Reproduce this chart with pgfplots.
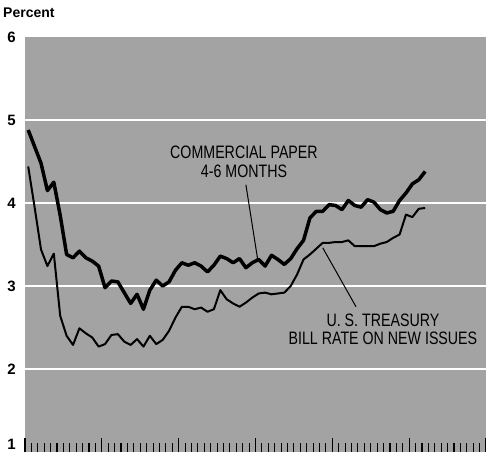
\documentclass[border=0pt]{standalone}
\usepackage{fontspec}
\setmainfont{Liberation Sans}
\newfontfamily\condfont{Liberation Sans}[FakeStretch=0.79]
\usepackage{pgfplots}
\pgfplotsset{compat=1.18}
\usepackage{pgfplotstable}

\pgfplotstableread{
x cp tb
0.5 4.88 4.44
1.5 4.68 3.95
2.5 4.48 3.44
3.5 4.15 3.24
4.5 4.25 3.39
5.5 3.85 2.64
6.5 3.38 2.40
7.5 3.34 2.29
8.5 3.42 2.49
9.5 3.34 2.43
10.5 3.30 2.38
11.5 3.24 2.27
12.5 2.98 2.30
13.5 3.06 2.41
14.5 3.05 2.42
15.5 2.92 2.33
16.5 2.79 2.29
17.5 2.90 2.36
18.5 2.72 2.27
19.5 2.95 2.40
20.5 3.07 2.30
21.5 3.00 2.35
22.5 3.05 2.46
23.5 3.19 2.62
24.5 3.28 2.75
25.5 3.25 2.75
26.5 3.28 2.72
27.5 3.24 2.74
28.5 3.17 2.69
29.5 3.25 2.72
30.5 3.36 2.95
31.5 3.33 2.84
32.5 3.28 2.79
33.5 3.33 2.75
34.5 3.22 2.80
35.5 3.28 2.86
36.5 3.32 2.91
37.5 3.24 2.92
38.5 3.37 2.90
39.5 3.32 2.91
40.5 3.26 2.92
41.5 3.33 3.00
42.5 3.45 3.14
43.5 3.55 3.32
44.5 3.82 3.38
45.5 3.90 3.45
46.5 3.90 3.52
47.5 3.98 3.52
48.5 3.97 3.53
49.5 3.92 3.53
50.5 4.03 3.55
51.5 3.97 3.48
52.5 3.95 3.48
53.5 4.04 3.48
54.5 4.01 3.48
55.5 3.92 3.51
56.5 3.88 3.53
57.5 3.90 3.58
58.5 4.03 3.62
59.5 4.12 3.86
60.5 4.23 3.83
61.5 4.28 3.93
62.5 4.38 3.94
}\ratedata

\begin{document}
\begin{tikzpicture}
\useasboundingbox (-25pt,0pt) rectangle (461pt,452pt);
\node[anchor=base west, inner sep=0pt, font=\bfseries\fontsize{14}{14}\selectfont] at (-22pt,434pt) {Percent};
\node[anchor=base east, inner sep=0pt, font=\bfseries\fontsize{15}{15}\selectfont] at (-9pt,3pt) {1};
\begin{axis}[
  at={(0pt,0pt)}, anchor=south west,
  scale only axis, width=461pt, height=415pt,
  xmin=0, xmax=72, ymin=1, ymax=6,
  axis line style={draw=none},
  axis background/.style={fill=black!36},
  /pgf/number format/assume math mode=true,
  xtick={0,12,...,72}, minor xtick={1,...,71}, xticklabels={},
  xtick pos=left, tick align=inside,
  major tick length=14pt, minor tick length=9pt,
  xtick style={black, line width=1.3pt},
  minor x tick style={black, line width=1.1pt},
  ytick={2,...,6}, ytick style={draw=none},
  yticklabel style={font=\bfseries\fontsize{15}{15}\selectfont, inner sep=0pt, xshift=-9pt},
  extra y ticks={2,3,4,5}, extra y tick labels={},
  extra y tick style={grid=major, major tick length=0pt, major grid style={white, line width=2.5pt}},
  clip=false,
]
\addplot[black, line width=3.5pt, line join=round] table[x=x, y=cp] {\ratedata};
\addplot[black, line width=2pt, line join=round] table[x=x, y=tb] {\ratedata};
\node[anchor=base, inner sep=0pt, font=\condfont\fontsize{18}{18}\selectfont] at (axis cs:34.2,4.54) {COMMERCIAL PAPER};
\node[anchor=base, inner sep=0pt, font=\condfont\fontsize{18}{18}\selectfont] at (axis cs:34.2,4.31) {4-6 MONTHS};
\node[anchor=base, inner sep=0pt, font=\condfont\fontsize{18}{18}\selectfont] at (axis cs:55.9,2.51) {U. S. TREASURY};
\node[anchor=base, inner sep=0pt, font=\condfont\fontsize{18}{18}\selectfont] at (axis cs:55.9,2.30) {BILL RATE ON NEW ISSUES};
\draw[black, line width=1pt] (axis cs:34.5,4.22) -- (axis cs:36.4,3.29);
\draw[black, line width=1pt] (axis cs:51.7,2.75) -- (axis cs:46.5,3.46);
\end{axis}
\end{tikzpicture}
\end{document}
